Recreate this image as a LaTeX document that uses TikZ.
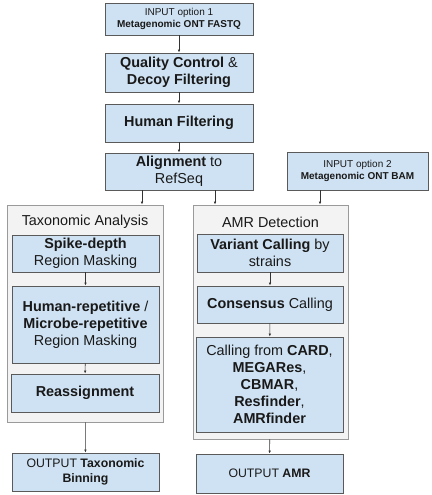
\documentclass[tikz,border=0pt]{standalone}
\usepackage{fontspec}
\setmainfont{Liberation Sans}
\usetikzlibrary{arrows.meta}
\definecolor{stepblue}{HTML}{CFE2F3}
\definecolor{stepline}{HTML}{5A5A5A}
\definecolor{groupfill}{HTML}{F3F3F3}
\definecolor{groupline}{HTML}{9A9A9A}
\def\bigtxt{\fontsize{14.4}{17}\selectfont}
\def\smalltxt{\fontsize{10}{12.5}\selectfont}
\def\outtxt{\fontsize{12.3}{15}\selectfont}

\begin{document}
\begin{tikzpicture}[x=1pt, y=-1pt,
		stepbox/.style={draw=stepline, fill=stepblue, line width=0.9pt, align=center, inner sep=0pt, text=black!90},
		groupbox/.style={draw=groupline, fill=groupfill, line width=0.9pt, inner sep=0pt},
		arr/.style={draw=black!80, line width=0.6pt, -{Latex[length=3pt, width=2.6pt]}}]
		%%%%% START %%%%%
		\useasboundingbox (0, 0) rectangle (431, 495);
		
		% main column
		\node[stepbox, minimum width=148, minimum height=32, font=\smalltxt] (in1) at (179, 19) {INPUT option 1\\\textbf{Metagenomic ONT FASTQ}};
		\node[stepbox, minimum width=148, minimum height=39, font=\bigtxt] (qc) at (179, 72.5) {\textbf{Quality Control} \&\\\textbf{Decoy Filtering}};
		\node[stepbox, minimum width=148, minimum height=38, font=\bigtxt] (hf) at (179, 123) {\textbf{Human Filtering}};
		\node[stepbox, minimum width=148, minimum height=37, font=\bigtxt] (aln) at (179, 171.5) {\textbf{Alignment} to\\RefSeq};
		\node[stepbox, minimum width=141, minimum height=38, font=\smalltxt] (in2) at (357.5, 171) {INPUT option 2\\\textbf{Metagenomic ONT BAM}};
		
		% group boxes
		\node[groupbox, minimum width=156, minimum height=217] (tax) at (85, 313.5) {};
		\node[groupbox, minimum width=155, minimum height=234] (amr) at (270.5, 322) {};
		\node[font=\bigtxt, text=black!90] (taxtitle) at (85, 222) {Taxonomic Analysis};
		\node[font=\bigtxt, text=black!90] (amrtitle) at (270.5, 222) {AMR Detection};
		
		% taxonomic analysis
		\node[stepbox, minimum width=147, minimum height=37, font=\bigtxt] (spike) at (85.5, 253.5) {\textbf{Spike-depth}\\Region Masking};
		\node[stepbox, minimum width=147, minimum height=77, font=\bigtxt] (hrep) at (85.5, 324.5) {\textbf{Human-repetitive} /\\\textbf{Microbe-repetitive}\\Region Masking};
		\node[stepbox, minimum width=148, minimum height=38, font=\bigtxt] (reas) at (85, 393) {\textbf{Reassignment}};
		
		% amr detection
		\node[stepbox, minimum width=146, minimum height=38, font=\bigtxt] (var) at (270, 253) {\textbf{Variant Calling} by\\strains};
		\node[stepbox, minimum width=146, minimum height=37, font=\bigtxt] (cons) at (270, 304.5) {\textbf{Consensus} Calling};
		\node[stepbox, minimum width=147, minimum height=95, font=\bigtxt] (call) at (269.5, 384.5) {Calling from \textbf{CARD},\\\textbf{MEGARes},\\\textbf{CBMAR},\\\textbf{Resfinder},\\\textbf{AMRfinder}};
		
		% outputs
		\node[stepbox, minimum width=147, minimum height=38, font=\outtxt] (outtax) at (85.5, 472) {OUTPUT \textbf{Taxonomic}\\\textbf{Binning}};
		\node[stepbox, minimum width=147, minimum height=39, font=\outtxt] (outamr) at (269.5, 473.5) {OUTPUT \textbf{AMR}};
		
		% arrows
		\draw[arr] (in1) -- (qc);
		\draw[arr] (qc) -- (hf);
		\draw[arr] (hf) -- (aln);
		\draw[arr] ([xshift=-37pt]aln.south) -- ([xshift=-37pt]aln.south |- tax.north);
		\draw[arr] ([xshift=36pt]aln.south) -- ([xshift=36pt]aln.south |- amr.north);
		\draw[arr] ([xshift=-37.5pt]in2.south) -- ([xshift=-37.5pt]in2.south |- amr.north);
		\draw[arr] (spike) -- (hrep);
		\draw[arr] (hrep) -- (reas);
		\draw[arr] (var) -- (cons);
		\draw[arr] (cons) -- (call);
		\draw[arr] (tax) -- (outtax);
		\draw[arr] (amr) -- (outamr);
		
		%%%%% END %%%%%
	\end{tikzpicture}
\end{document}
